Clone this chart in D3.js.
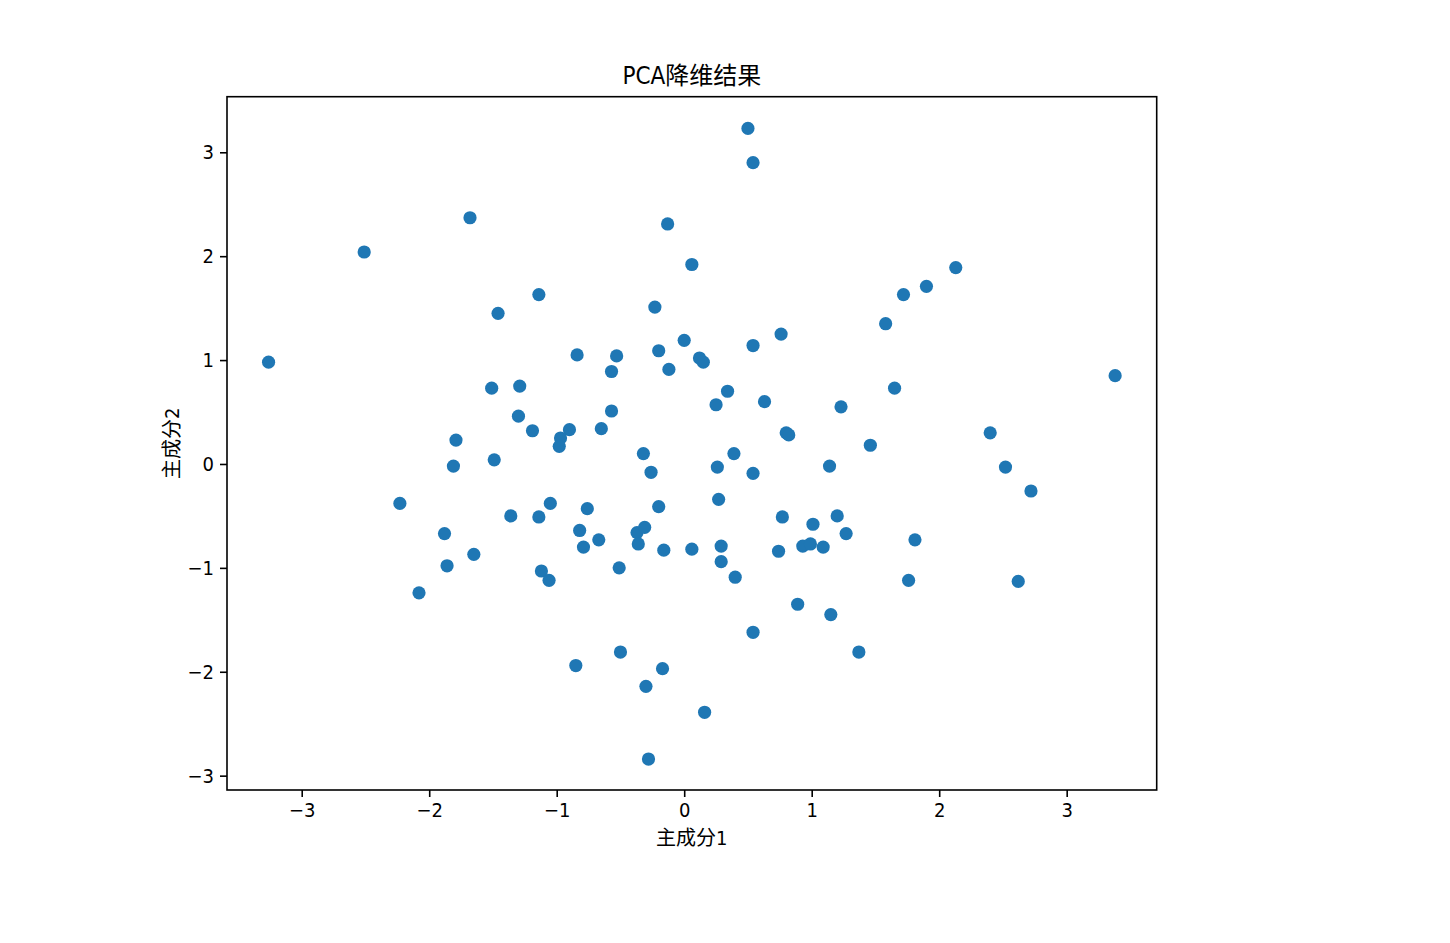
<!DOCTYPE html>
<html>
<head>
<meta charset="utf-8">
<script src="https://cdn.jsdelivr.net/npm/d3@7"></script>
<style>
  html, body { margin: 0; padding: 0; background: #ffffff; }
  svg { display: block; }
  text { font-family: "Liberation Sans Narrow", "DejaVu Sans Condensed", "Noto Sans CJK SC", sans-serif; fill: #000; }
</style>
</head>
<body>
<svg id="chart" width="1450" height="943"></svg>
<script>
// ---- data ----
const titleText = "PCA降维结果";
const xLabel = "主成分1";
const yLabel = "主成分2";
const xTicks = [-3, -2, -1, 0, 1, 2, 3];
const yTicks = [-3, -2, -1, 0, 1, 2, 3];

const pc1 = [
  -3.26, -2.51, -1.68, -0.13, 0.06, -1.14, -1.46, -0.23, 0.00, -0.84,
  -0.53, -0.57, -0.20, -0.12, -1.51, -1.29, -1.30, -1.19, -0.90, -0.57,
  -0.65, -1.79, -0.97, -0.98, -0.32, -1.81, -1.49, -0.26, -2.23, -1.36,
  -1.14, -1.05, -0.76, -0.20, -0.82, -0.67, -0.79, -0.37, -0.31, -0.36,
  -0.16, 0.06, -1.88, -1.65, -1.86, -2.08, -1.12, -1.06, -0.51, -0.50,
  -0.85, -0.17, -0.30, -0.28, 0.80, 0.82, 1.46, 0.39, 0.26, 0.54,
  1.14, 2.52, 2.72, 0.27, 0.77, 1.20, 1.01, 1.27, 1.81, 0.29,
  0.74, 0.93, 0.99, 1.09, 0.29, 0.40, 1.76, 2.62, 0.89, 1.15,
  0.54, 1.37, 0.16, 0.50, 0.54, 2.13, 1.90, 1.72, 1.58, 0.54,
  0.76, 0.12, 0.15, 0.34, 0.25, 0.63, 1.23, 1.65, 3.38, 2.40
];
const pc2 = [
  0.98, 2.04, 2.37, 2.31, 1.92, 1.63, 1.45, 1.51, 1.19, 1.05,
  1.04, 0.89, 1.09, 0.91, 0.73, 0.75, 0.46, 0.32, 0.33, 0.51,
  0.34, 0.23, 0.25, 0.17, 0.10, -0.02, 0.04, -0.08, -0.38, -0.50,
  -0.51, -0.38, -0.43, -0.41, -0.64, -0.73, -0.80, -0.66, -0.61, -0.77,
  -0.83, -0.82, -0.67, -0.87, -0.98, -1.24, -1.03, -1.12, -1.00, -1.81,
  -1.94, -1.97, -2.14, -2.84, 0.30, 0.28, 0.18, 0.10, -0.03, -0.09,
  -0.02, -0.03, -0.26, -0.34, -0.51, -0.50, -0.58, -0.67, -0.73, -0.79,
  -0.84, -0.79, -0.77, -0.80, -0.94, -1.09, -1.12, -1.13, -1.35, -1.45,
  -1.62, -1.81, -2.39, 3.23, 2.90, 1.89, 1.71, 1.63, 1.35, 1.14,
  1.25, 1.02, 0.98, 0.70, 0.57, 0.60, 0.55, 0.73, 0.85, 0.30
];

const points = pc1.map((v, i) => ({ x: v, y: pc2[i] }));

// ---- layout ----
const svg = d3.select("#chart");
const plotL = 227, plotR = 1156.7, plotT = 96.7, plotB = 790;

const x = d3.scaleLinear().domain([-3.586, 3.706]).range([plotL, plotR]);
const y = d3.scaleLinear().domain([-3.138, 3.535]).range([plotB, plotT]);

svg.append("rect").attr("width", 1450).attr("height", 943).attr("fill", "#fff");

// points
svg.append("g")
  .selectAll("circle")
  .data(points)
  .join("circle")
  .attr("cx", d => x(d.x))
  .attr("cy", d => y(d.y))
  .attr("r", 6.6)
  .attr("fill", "#1f77b4");

// axes
const fmt = d => d3.format("d")(d).replace("-", "\u2212");
const xAxis = d3.axisBottom(x).tickValues(xTicks).tickFormat(fmt).tickSize(7).tickPadding(6);
const yAxis = d3.axisLeft(y).tickValues(yTicks).tickFormat(fmt).tickSize(7).tickPadding(6);

const gx = svg.append("g").attr("transform", `translate(0,${plotB})`).call(xAxis);
const gy = svg.append("g").attr("transform", `translate(${plotL},0)`).call(yAxis);
[gx, gy].forEach(g => {
  g.select(".domain").remove();
  g.selectAll(".tick line").attr("stroke", "#000").attr("stroke-width", 1.6);
  g.selectAll(".tick text").attr("font-size", 20).attr("font-family", null).attr("fill", "#000");
});

// frame
svg.append("rect")
  .attr("x", plotL).attr("y", plotT)
  .attr("width", plotR - plotL).attr("height", plotB - plotT)
  .attr("fill", "none").attr("stroke", "#000").attr("stroke-width", 1.6);

// title and labels
svg.append("text")
  .attr("x", (plotL + plotR) / 2).attr("y", 76)
  .attr("text-anchor", "middle").attr("dominant-baseline", "central")
  .attr("font-size", 24).text(titleText);

svg.append("text")
  .attr("x", (plotL + plotR) / 2).attr("y", 838)
  .attr("text-anchor", "middle").attr("dominant-baseline", "central")
  .attr("font-size", 20).text(xLabel);

svg.append("text")
  .attr("transform", `translate(172,${(plotT + plotB) / 2}) rotate(-90)`)
  .attr("text-anchor", "middle").attr("dominant-baseline", "central")
  .attr("font-size", 20).text(yLabel);
</script>
</body>
</html>
